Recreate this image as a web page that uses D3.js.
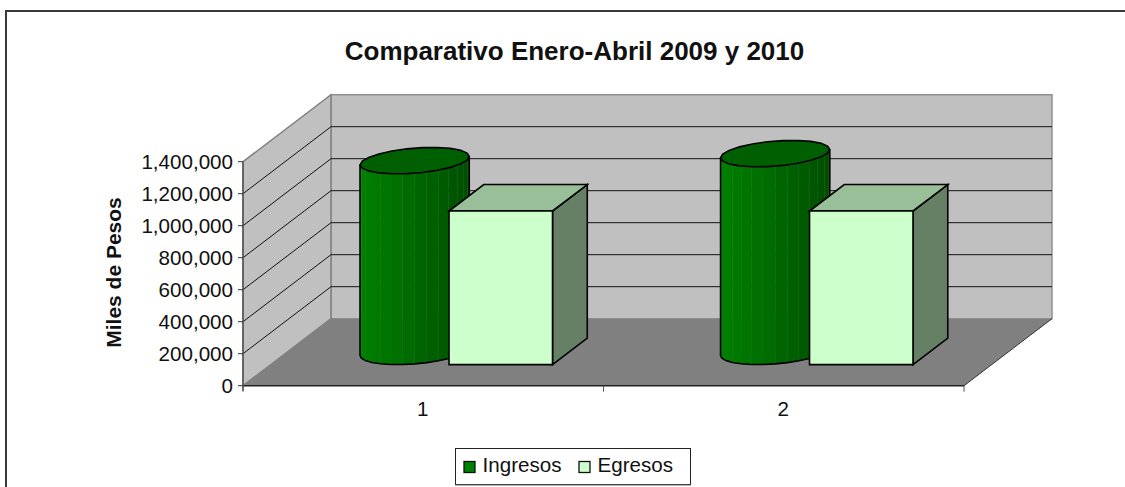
<!DOCTYPE html>
<html><head><meta charset="utf-8">
<script src="https://cdn.jsdelivr.net/npm/d3@7/dist/d3.min.js"></script>
<style>html,body{margin:0;padding:0;background:#fff;overflow:hidden}svg{display:block}text{font-family:"Liberation Sans",Arial,sans-serif;fill:#111}</style>
</head><body><svg id="c" width="1125" height="487"></svg>
<script>
const categories = ["1", "2"];
const seriesNames = ["Ingresos", "Egresos"];
const ingresos = [1192000, 1236000];
const egresos = [960000, 960000];
const yTicks = [0, 200000, 400000, 600000, 800000, 1000000, 1200000, 1400000];
const titleText = "Comparativo Enero-Abril 2009 y 2010";
const yTitle = "Miles de Pesos";

const W = 1125, H = 487;
const svg = d3.select("#c").attr("viewBox", [0, 0, W, H]);
// oblique projection
const ox = 243, oy = 385.7, depthX = 88, depthY = 67;
const x = d3.scaleBand().domain(categories).range([0, 721]).paddingInner(0).paddingOuter(0);
const y = d3.scaleLinear().domain([0, 1400000]).range([0, 224]);
const z = d3.scaleLinear().domain([0, 1]).range([0, 1]);
const P = (xv, v, zv) => [ox + xv + depthX * z(zv), oy - y(v) - depthY * z(zv)];
const poly = pts => "M" + pts.map(p => p.map(n => n.toFixed(2)).join(",")).join("L") + "Z";
const barW = 103.5, gap = 74.8;
const z0 = 0.315, z1 = 0.71, zc = (z0 + z1) / 2, zr = (z1 - z0) / 2;

// frame: the page crops it on the right and at the bottom
svg.append("path").attr("d", d3.line()([[6, H], [6, 11], [W, 11]])).attr("fill", "none").attr("stroke", "#3a3a3a").attr("stroke-width", 2);

// walls and floor
const X0 = 0, X1 = 721, V1 = 1400000;
svg.append("path").attr("d", poly([P(X0,0,1),P(X1,0,1),P(X1,V1,1),P(X0,V1,1)])).attr("fill", "#c0c0c0").attr("stroke", "#909090").attr("stroke-width", 1.5);
svg.append("path").attr("d", poly([P(X0,0,0),P(X0,0,1),P(X0,V1,1),P(X0,V1,0)])).attr("fill", "#c0c0c0").attr("stroke", "#808080").attr("stroke-width", 1.5);
svg.append("path").attr("d", poly([P(X0,0,0),P(X1,0,0),P(X1,0,1),P(X0,0,1)])).attr("fill", "#808080");
svg.append("path").attr("d", d3.line()([P(X0,0,0),P(X1,0,0)])).attr("fill", "none").attr("stroke", "#222").attr("stroke-width", 1.5);
svg.append("path").attr("d", d3.line()([P(X1,0,0),P(X1,0,1)])).attr("fill", "none").attr("stroke", "#333").attr("stroke-width", 1);
// gridlines
yTicks.slice(1, -1).forEach(t => {
  svg.append("path").attr("d", d3.line()([P(X0,t,0),P(X0,t,1),P(X1,t,1)])).attr("fill", "none").attr("stroke", "#111").attr("stroke-width", 1);
});
// axes
svg.append("line").attr("x1", ox).attr("x2", ox).attr("y1", oy - y(V1)).attr("y2", oy + 5).attr("stroke", "#555").attr("stroke-width", 1.5);
yTicks.forEach(t => {
  const yy = oy - y(t);
  svg.append("line").attr("x1", ox - 5).attr("x2", ox).attr("y1", yy).attr("y2", yy).attr("stroke", "#333");
  svg.append("text").attr("x", ox - 10).attr("y", yy + 7).attr("text-anchor", "end").attr("font-size", 20.6).text(d3.format(",")(t));
});
[0, 1, 2].forEach(i => {
  const xx = ox + i * x.bandwidth();
  svg.append("line").attr("x1", xx).attr("x2", xx).attr("y1", oy).attr("y2", oy + 6).attr("stroke", "#555");
});
categories.forEach(c => {
  svg.append("text").attr("x", ox + x(c) + x.bandwidth() / 2 - 0.5).attr("y", 416).attr("text-anchor", "middle").attr("font-size", 20.6).text(c);
});

// bars
const shade = d3.scaleLinear().domain([0, 0.5, 1]).range(["#008000", "#006800", "#004d00"]);
categories.forEach((c, i) => {
  // cylinder
  const cx = x(c) + gap + barW / 2, r = barW / 2, v = ingresos[i];
  const ang = t => [cx + r * Math.cos(t), zc + zr * Math.sin(t)];
  const tL = Math.PI + Math.atan2(depthX * zr, r), tR = Math.atan2(depthX * zr, r);
  const N = 14;
  const front = d3.range(N + 1).map(k => tL + (tR + 2 * Math.PI - tL) * k / N);
  const pl = P(ang(tL)[0],0,ang(tL)[1])[0], pr = P(ang(tR)[0],0,ang(tR)[1])[0];
  for (let k = 0; k < N; k++) {
    const a = ang(front[k]), b = ang(front[k + 1]);
    const f = (P(a[0],0,a[1])[0] + P(b[0],0,b[1])[0]) / 2;
    const col = shade((f - pl) / (pr - pl));
    svg.append("path").attr("d", poly([P(a[0],0,a[1]),P(b[0],0,b[1]),P(b[0],v,b[1]),P(a[0],v,a[1])]))
      .attr("fill", col).attr("stroke", col).attr("stroke-width", 0.5);
    if (k > 0) svg.append("path").attr("d", d3.line()([P(a[0],0,a[1]),P(a[0],v,a[1])])).attr("stroke", "#2f9a2f").attr("stroke-opacity", 0.14).attr("stroke-width", 1).attr("fill", "none");
  }
  const outline = front.map(t => { const a = ang(t); return P(a[0], 0, a[1]); });
  const topL = ang(tL), topR = ang(tR);
  svg.append("path").attr("d", d3.line()([P(topL[0],v,topL[1]), ...outline, P(topR[0],v,topR[1])])).attr("fill", "none").attr("stroke", "#000").attr("stroke-width", 1.6);
  const topPts = d3.range(22).map(k => { const a = ang(tR + k / 22 * 2 * Math.PI); return P(a[0], v, a[1]); });
  svg.append("path").attr("d", poly(topPts)).attr("fill", "#005f00").attr("stroke", "#000").attr("stroke-width", 1.6);
  // box
  const xa = x(c) + gap + barW, xb = xa + barW, e = egresos[i];
  const box = (pts, fill) => svg.append("path").attr("d", poly(pts)).attr("fill", fill).attr("stroke", "#000").attr("stroke-width", 1.6);
  box([P(xb,0,z0),P(xb,0,z1),P(xb,e,z1),P(xb,e,z0)], "#668066");
  box([P(xa,e,z0),P(xb,e,z0),P(xb,e,z1),P(xa,e,z1)], "#99bf99");
  box([P(xa,0,z0),P(xb,0,z0),P(xb,e,z0),P(xa,e,z0)], "#ccffcc");
});

// titles
svg.append("text").attr("x", 574.5).attr("y", 60).attr("text-anchor", "middle").attr("font-size", 26).attr("font-weight", "bold").text(titleText);
svg.append("text").attr("transform", "translate(120.5,272.5) rotate(-90)").attr("text-anchor", "middle").attr("font-size", 21).attr("font-weight", "bold").text(yTitle);

// legend
svg.append("rect").attr("x", 455.5).attr("y", 448.5).attr("width", 235).attr("height", 36).attr("fill", "#fff").attr("stroke", "#222").attr("stroke-width", 1);
svg.append("line").attr("x1", 455).attr("x2", 691).attr("y1", 485).attr("y2", 485).attr("stroke", "#666").attr("stroke-width", 1);
[[0, "#008000", 482.5], [1, "#ccffcc", 597.5]].forEach(([i, col, tx]) => {
  svg.append("rect").attr("x", tx - 18.5).attr("y", 461.5).attr("width", 11).attr("height", 11).attr("fill", col).attr("stroke", "#111").attr("stroke-width", 1.3);
  svg.append("text").attr("x", tx).attr("y", 472).attr("font-size", 20.6).text(seriesNames[i]);
});
</script></body></html>
